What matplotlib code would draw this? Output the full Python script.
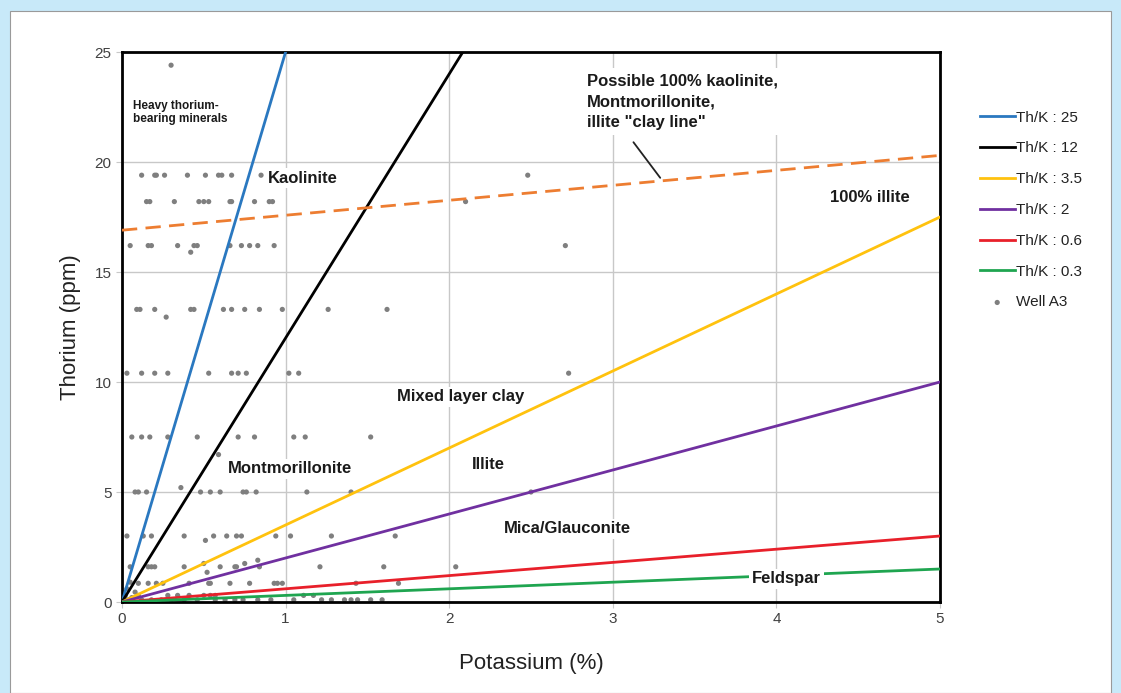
import numpy as np
import matplotlib
matplotlib.use("Agg")
import matplotlib.pyplot as plt
from matplotlib.patches import Rectangle

plt.rcParams['font.family'] = ['Liberation Sans', 'DejaVu Sans']

# Th/K ratio lines
ratios = [25, 12, 3.5, 2, 0.6, 0.3]
ratio_labels = ["Th/K : 25", "Th/K : 12", "Th/K : 3.5", "Th/K : 2", "Th/K : 0.6", "Th/K : 0.3"]
ratio_colors = ["#2a78c0", "#000000", "#ffc20e", "#7030a0", "#e8202a", "#1fa550"]

# clay line (dashed)
clay_k = [0, 5]
clay_th = [16.9, 20.3]

# Well A3 points, read row by row
well_k = [0.30,
          0.12, 0.20, 0.21, 0.26, 0.40, 0.51, 0.59, 0.61, 0.67, 0.85, 2.48,
          0.15, 0.17, 0.32, 0.47, 0.50, 0.53, 0.66, 0.67, 0.81, 0.90, 0.92, 2.10,
          0.05, 0.16, 0.18, 0.34, 0.42, 0.44, 0.46, 0.66, 0.73, 0.78, 0.83, 0.93, 2.71,
          0.09, 0.11, 0.20, 0.27, 0.42, 0.44, 0.62, 0.67, 0.75, 0.84, 0.98, 1.26, 1.62,
          0.03, 0.12, 0.20, 0.28, 0.53, 0.67, 0.71, 0.76, 1.02, 1.08, 2.73,
          0.06, 0.12, 0.17, 0.28, 0.46, 0.59, 0.71, 0.81, 1.05, 1.12, 1.52,
          0.08, 0.10, 0.15, 0.36, 0.48, 0.54, 0.60, 0.74, 0.76, 0.82, 1.13, 1.40, 2.50,
          0.03, 0.13, 0.18, 0.38, 0.51, 0.56, 0.64, 0.70, 0.73, 0.94, 1.03, 1.28, 1.67,
          0.05, 0.16, 0.18, 0.20, 0.38, 0.50, 0.52, 0.60, 0.69, 0.70, 0.75, 0.83, 0.84, 1.21, 1.60, 2.04,
          0.10, 0.16, 0.21, 0.25, 0.41, 0.53, 0.54, 0.66, 0.78, 0.93, 0.95, 0.98, 1.43, 1.69,
          0.10, 0.28, 0.34, 0.41, 0.50, 0.54, 0.57, 1.11, 1.17,
          0.04, 0.12, 0.18, 0.24, 0.30, 0.38, 0.46, 0.57, 0.63, 0.69, 0.74, 0.83, 0.91,
          1.05, 1.22, 1.28, 1.36, 1.40, 1.44, 1.52, 1.59,
          0.02, 0.03, 0.05, 0.02, 0.06, 0.08]
well_th = [24.4,
           19.4, 19.4, 19.4, 19.4, 19.4, 19.4, 19.4, 19.4, 19.4, 19.4, 19.4,
           18.2, 18.2, 18.2, 18.2, 18.2, 18.2, 18.2, 18.2, 18.2, 18.2, 18.2, 18.2,
           16.2, 16.2, 16.2, 16.2, 15.9, 16.2, 16.2, 16.2, 16.2, 16.2, 16.2, 16.2, 16.2,
           13.3, 13.3, 13.3, 12.95, 13.3, 13.3, 13.3, 13.3, 13.3, 13.3, 13.3, 13.3, 13.3,
           10.4, 10.4, 10.4, 10.4, 10.4, 10.4, 10.4, 10.4, 10.4, 10.4, 10.4,
           7.5, 7.5, 7.5, 7.5, 7.5, 6.7, 7.5, 7.5, 7.5, 7.5, 7.5,
           5.0, 5.0, 5.0, 5.2, 5.0, 5.0, 5.0, 5.0, 5.0, 5.0, 5.0, 5.0, 5.0,
           3.0, 3.0, 3.0, 3.0, 2.8, 3.0, 3.0, 3.0, 3.0, 3.0, 3.0, 3.0, 3.0,
           1.6, 1.6, 1.6, 1.6, 1.6, 1.75, 1.35, 1.6, 1.6, 1.6, 1.75, 1.9, 1.6, 1.6, 1.6, 1.6,
           0.85, 0.85, 0.85, 0.85, 0.85, 0.85, 0.85, 0.85, 0.85, 0.85, 0.85, 0.85, 0.85, 0.85,
           0.3, 0.3, 0.3, 0.3, 0.3, 0.3, 0.3, 0.3, 0.3,
           0.1, 0.1, 0.1, 0.1, 0.1, 0.1, 0.1, 0.1, 0.1, 0.1, 0.1, 0.1, 0.1,
           0.1, 0.1, 0.1, 0.1, 0.1, 0.1, 0.1, 0.1,
           0.3, 0.6, 0.9, 0.1, 0.2, 0.45]

# zone labels
zone_text = ["Kaolinite", "Mixed layer clay", "Montmorillonite", "Illite",
             "Mica/Glauconite", "Feldspar", "100% illite"]
zone_k = [0.89, 1.68, 0.645, 2.14, 2.335, 3.85, 4.33]
zone_th = [19.27, 9.32, 6.05, 6.23, 3.32, 1.05, 18.4]

fig = plt.figure(figsize=(11.21, 6.93), dpi=100)
fig.patch.set_facecolor("#c8e9f9")
fig.patches.append(Rectangle((10 / 1121, 0), 1101 / 1121, 682 / 693,
                             transform=fig.transFigure, facecolor="white",
                             edgecolor="#9a9a9a", linewidth=0.8, zorder=-5))

ax = fig.add_axes([122 / 1121, 91 / 693, 818 / 1121, 550 / 693])
ax.set_zorder(2)

ax.scatter(well_k, well_th, s=14, color="#7f7f7f", zorder=2, label="Well A3",
           edgecolors="none")

handles = []
for r, lab, c in zip(ratios, ratio_labels, ratio_colors):
    h = ax.axline((0, 0), slope=r, color=c, lw=2, label=lab, zorder=3)
    handles.append(h)

ax.plot(clay_k, clay_th, color="#ed7d31", lw=2, dashes=(5.5, 3), zorder=3)

ax.set_xlim(0, 5)
ax.set_ylim(0, 25)
ax.set_xticks([0, 1, 2, 3, 4, 5])
ax.set_yticks([0, 5, 10, 15, 20, 25])
ax.grid(True, color="#c8c8c8", lw=1, zorder=0)
ax.set_axisbelow(True)
for s in ax.spines.values():
    s.set_linewidth(2)
    s.set_color("black")
ax.tick_params(colors="#c8c8c8", labelcolor="#404040", labelsize=11, length=4)

ax.set_xlabel("Potassium (%)", fontsize=16, color="#222222", labelpad=19)
ax.set_ylabel("Thorium (ppm)", fontsize=16, color="#222222", labelpad=10)

box = dict(facecolor="white", edgecolor="none", pad=2)
for t, k, th in zip(zone_text, zone_k, zone_th):
    ax.text(k, th, t, fontsize=12, fontweight="bold", color="#1a1a1a",
            ha="left", va="center", bbox=box, zorder=5)

ax.text(0.07, 22.8, "Heavy thorium-\nbearing minerals", fontsize=8.5,
        fontweight="bold", color="#1a1a1a", ha="left", va="top",
        linespacing=1.1, zorder=5)

ax.text(2.84, 24.0, 'Possible 100% kaolinite,\nMontmorillonite,\nillite "clay line"',
        fontsize=12, fontweight="bold", color="#1a1a1a", ha="left", va="top",
        linespacing=1.45, bbox=dict(facecolor="white", edgecolor="none", pad=4),
        zorder=5)
ax.annotate("", xy=(3.30, 19.18), xytext=(3.116, 21.0),
            arrowprops=dict(arrowstyle="-", color="#222222", lw=1.3), zorder=6)

leg = ax.legend(handles=handles + [ax.collections[0]],
                loc="upper left", bbox_to_anchor=(972 / 1121, 590 / 693),
                bbox_transform=fig.transFigure, frameon=False, fontsize=11,
                handlelength=2.3, handletextpad=0.1, labelspacing=1.1,
                borderpad=0, markerscale=1)
for txt in leg.get_texts():
    txt.set_color("#222222")

fig.savefig("out.png", dpi=100, facecolor=fig.get_facecolor())
